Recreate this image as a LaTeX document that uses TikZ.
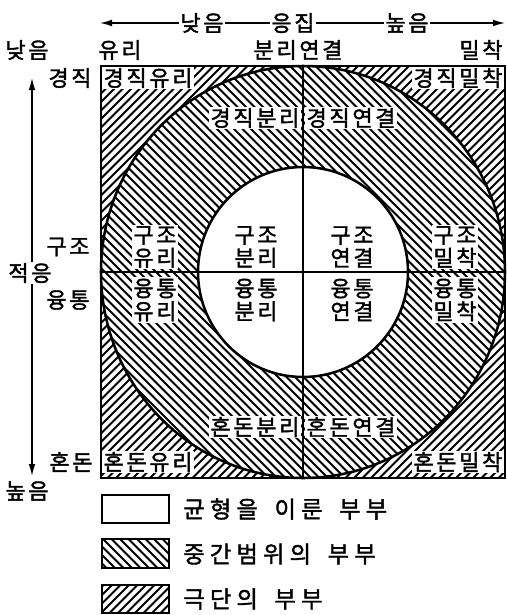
\documentclass[tikz,border=0pt]{standalone}
\usepackage{fontspec}
\newfontfamily\kr[LetterSpace=12,FakeBold=1.6]{Noto Sans CJK KR}
\newfontfamily\krleg[LetterSpace=22,FakeBold=1.6,WordSpace=1.6]{Noto Sans CJK KR}
\usetikzlibrary{arrows.meta}
\begin{document}
\begin{tikzpicture}[x=0.75pt,y=-0.75pt,
  lbl/.style={font=\kr\fontsize{16.5pt}{17.25pt}\selectfont, inner sep=1pt, fill=white, align=center},
  plain/.style={font=\kr\fontsize{16.5pt}{17.25pt}\selectfont, inner sep=1pt, align=center},
  leg/.style={font=\krleg\fontsize{17.5pt}{18pt}\selectfont, inner sep=0pt, anchor=west},
  hatch/.style={line width=1.5pt},
  outl/.style={line width=1.9pt},
  axis/.style={line width=0.9pt, {Latex[length=9pt,width=5pt]}-{Latex[length=9pt,width=5pt]}}]
\useasboundingbox (0,0) rectangle (507,615);
% corner hatching
\begin{scope}
  \clip (101,66) rectangle (505,478);
  \foreach \c in {-440,-431.5,...,520} \draw[hatch] (\c,490) -- (\c+440,50);
\end{scope}
% ring
\fill[white] (303,272) ellipse [x radius=202, y radius=206];
\begin{scope}
  \clip (303,272) ellipse [x radius=202, y radius=206];
  \foreach \c in {-440,-431.5,...,520} \draw[hatch] (\c,50) -- (\c+440,490);
\end{scope}
% inner circle
\fill[white] (303,272) circle [radius=105];
% center lines
\coordinate (vt) at (303,66); \coordinate (vb) at (303,478);
\coordinate (hl) at (101,272); \coordinate (hr) at (505,272);
\draw[line width=0.8pt] (vt) -- (vb);
\draw[line width=0.8pt] (hl) -- (hr);
% outlines
\draw[outl] (303,272) ellipse [x radius=202, y radius=206];
\draw[outl] (303,272) circle [radius=105];
\draw[outl] (101,66) rectangle (505,478);
% top axis
\coordinate (al) at (100,23); \coordinate (ar) at (505,23);
\draw[axis] (al) -- (ar);
\node[lbl] (tlow) at (202,23) {낮음};
\node[lbl] (tcoh) at (293,23) {응집};
\node[lbl] (thigh) at (407,23) {높음};
% left axis
\coordinate (vat) at (32,78); \coordinate (vab) at (32,476);
\draw[axis] (vat) -- (vab);
\node[lbl] (ladapt) at (30,273) {적응};
% column headers
\node[plain] (hlow) at (27,50) {낮음};
\node[plain] (hdis) at (120,50) {유리};
\node[plain] (hsep) at (298,50) {분리연결};
\node[plain] (henm) at (481,50) {밀착};
% row headers
\node[plain] (rrig) at (70,78) {경직};
\node[plain] (rstr) at (68,247) {구조};
\node[plain] (rflx) at (68,300) {융통};
\node[plain] (rcha) at (71,462) {혼돈};
\node[plain] (rhigh) at (27,491) {높음};
% cells
\node[lbl, anchor=west] (c11) at (102,78) {경직유리};
\node[lbl, anchor=east] (c14) at (504,78) {경직밀착};
\node[lbl, anchor=east] (c12) at (301,118) {경직분리};
\node[lbl, anchor=west] (c13) at (305,118) {경직연결};
\node[lbl] (c21) at (155,247) {구조\\유리};
\node[lbl] (c22) at (256,247) {구조\\분리};
\node[lbl] (c23) at (352,247) {구조\\연결};
\node[lbl] (c24) at (455,247) {구조\\밀착};
\node[lbl] (c31) at (155,300) {융통\\유리};
\node[lbl] (c32) at (256,300) {융통\\분리};
\node[lbl] (c33) at (352,300) {융통\\연결};
\node[lbl] (c34) at (455,300) {융통\\밀착};
\node[lbl, anchor=east] (c42) at (301,427) {혼돈분리};
\node[lbl, anchor=west] (c43) at (305,427) {혼돈연결};
\node[lbl, anchor=west] (c41) at (102,462) {혼돈유리};
\node[lbl, anchor=east] (c44) at (504,462) {혼돈밀착};
% legend
\draw[line width=1pt] (102,495) rectangle (169,523);
\begin{scope}
  \clip (102,539) rectangle (169,568);
  \foreach \c in {60,68.5,...,180} \draw[hatch] (\c,530) -- (\c+45,575);
\end{scope}
\draw[outl] (102,539) rectangle (169,568);
\begin{scope}
  \clip (102,585) rectangle (169,613);
  \foreach \c in {60,68.5,...,200} \draw[hatch] (\c,620) -- (\c+45,575);
\end{scope}
\draw[outl] (102,585) rectangle (169,613);
\node[leg] (l1) at (183,509) {균형을 이룬 부부};
\node[leg] (l2) at (183,554) {중간범위의 부부};
\node[leg] (l3) at (183,599) {극단의 부부};
\end{tikzpicture}
\end{document}
